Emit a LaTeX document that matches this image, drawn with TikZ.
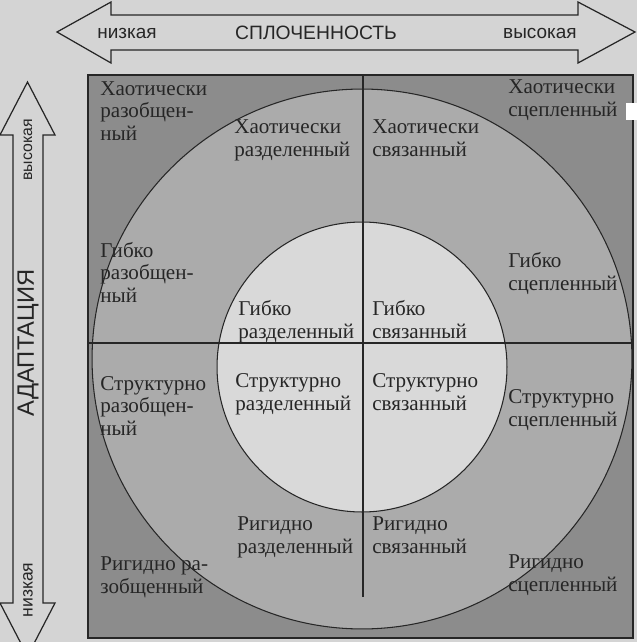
\documentclass[tikz,border=0pt]{standalone}
\usepackage{fontspec}
\setmainfont{Liberation Serif}
\newfontfamily\axisfont{Liberation Sans}
\usetikzlibrary{positioning}
\definecolor{paper}{gray}{0.83}
\definecolor{corner}{gray}{0.55}
\definecolor{ring}{gray}{0.67}
\definecolor{core}{gray}{0.85}
\definecolor{ink}{gray}{0.15}
\tikzset{
  type/.style={anchor=base west, align=left, inner sep=0pt, text=ink,
    font=\fontsize{12}{12.8}\selectfont},
  axis/.style={inner sep=0pt, text=ink, font=\axisfont\fontsize{10.8}{12}\selectfont},
  bigarrow/.style={draw=ink, line width=0.7pt, fill=paper, line join=miter},
  rule/.style={draw=ink, line width=0.6pt},
}

\begin{document}
\begin{tikzpicture}[x=0.02cm,y=-0.02cm]
\clip (0,0) rectangle (637,642);
\fill[paper] (0,0) rectangle (637,642);
% axes
\draw[bigarrow] (57,32) -- (111,2) -- (111,15) -- (578,15) -- (578,2) -- (635,32)
  -- (578,63) -- (578,50) -- (111,50) -- (111,63) -- cycle;
\draw[bigarrow] (27.5,82) -- (55,135) -- (43,135) -- (43,603) -- (55,603) -- (27.5,656)
  -- (0,603) -- (13,603) -- (13,135) -- (0,135) -- cycle;
\node[axis] (low1) at (127,33) {низкая};
\node[axis, font=\axisfont\fontsize{11}{12}\selectfont] (coh) at (316,33) {СПЛОЧЕННОСТЬ};
\node[axis] (high1) at (540,33) {высокая};
\node[axis, rotate=90, font=\axisfont\fontsize{9}{10}\selectfont] (high2) at (28,150) {высокая};
\node[axis, rotate=90, font=\axisfont\fontsize{13.5}{15}\selectfont] (adapt) at (28,343) {АДАПТАЦИЯ};
\node[axis, rotate=90, font=\axisfont\fontsize{10}{11}\selectfont] (low2) at (28,590) {низкая};
% circumplex
\draw[rule, fill=corner] (88,75) rectangle (633,638);
\draw[rule, fill=ring] (362,359) circle [radius=5.4cm];
\draw[rule, fill=core] (362,367) circle [radius=2.9cm];
\draw[rule] (363,75) -- (363,597);
\draw[rule] (88,343) -- (633,343);
\fill[white] (626,103) rectangle (637,120);
% unbalanced types (anchored at the last line)
\node[type] (hraz) at (100,140) {Хаотически\\разобщен-\\ный};
\node[type] (graz) at (100,302) {Гибко\\разобщен-\\ный};
\node[type] (sraz) at (100,435) {Структурно\\разобщен-\\ный};
\node[type] (rraz) at (100,593) {Ригидно ра-\\зобщенный};
\node[type] (hsc) at (508,116) {Хаотически\\сцепленный};
\node[type] (gsc) at (508,290) {Гибко\\сцепленный};
\node[type] (ssc) at (508,426) {Структурно\\сцепленный};
\node[type] (rsc) at (508,591) {Ригидно\\сцепленный};
% mid-range and balanced types
\node[type] (hrd) at (234,156) {Хаотически\\разделенный};
\node[type] (hsv) at (372,156) {Хаотически\\связанный};
\node[type] (grd) at (238,338) {Гибко\\разделенный};
\node[type] (gsv) at (372,338) {Гибко\\связанный};
\node[type] (srd) at (235,410) {Структурно\\разделенный};
\node[type] (ssv) at (372,410) {Структурно\\связанный};
\node[type] (rrd) at (237,553) {Ригидно\\разделенный};
\node[type] (rsv) at (372,553) {Ригидно\\связанный};
\end{tikzpicture}
\end{document}
